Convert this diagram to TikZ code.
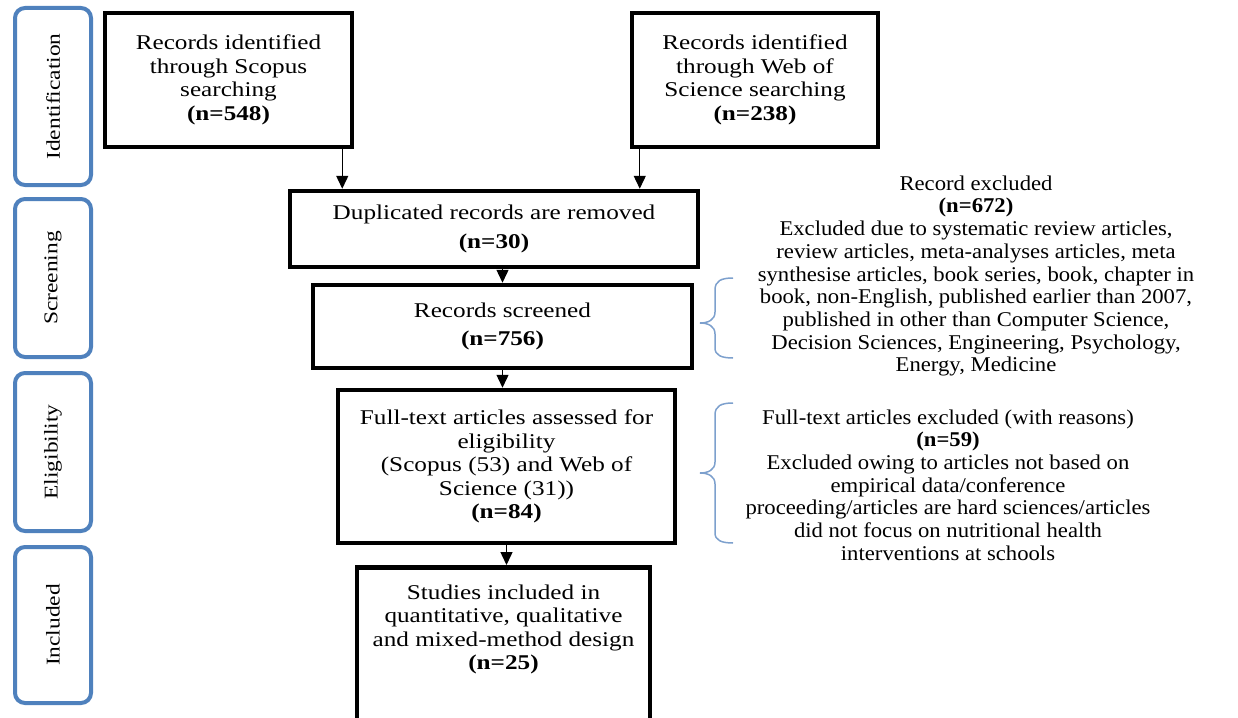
\documentclass[tikz,border=0pt]{standalone}
\usepackage{fontspec}
\setmainfont{Liberation Serif}[FakeStretch=1.2]
\newfontfamily\notefont{Liberation Serif}[FakeStretch=1.08]
\usetikzlibrary{arrows.meta}
\definecolor{stageblue}{RGB}{79,129,189}
\definecolor{braceblue}{RGB}{125,160,205}

\begin{document}
\begin{tikzpicture}[x=1pt,y=-1pt,
    every node/.style={align=center,font=\fontsize{21}{23.5}\selectfont},
    box/.style={draw,line width=4.5pt,inner sep=0pt},
    stage/.style={draw=stageblue,line width=4pt,rounded corners=10pt,fill=white,
      rotate=90,minimum height=76pt,inner sep=0pt,font=\fontsize{19.5}{22}\selectfont},
    note/.style={font=\notefont\fontsize{21}{22.7}\selectfont},
    arr/.style={line width=1.4pt,-{Triangle[length=13pt,width=12pt]}},
    brace/.style={draw=braceblue,line width=1.5pt}]
  \useasboundingbox (0,0) rectangle (1238,717);
  \clip (0,0) rectangle (1238,717);

  % stages
  \node[stage,minimum width=177pt] (idf) at (53,96.5) {Identification};
  \node[stage,minimum width=158pt] (scr) at (53,278) {Screening};
  \node[stage,minimum width=158pt] (elg) at (53,452) {Eligibility};
  \node[stage,minimum width=156pt] (inc) at (53,625) {Included};

  % flow boxes
  \node[box,minimum width=247pt,minimum height=134pt] (scopus) at (228.5,80)
    {Records identified\\through Scopus\\searching\\\textbf{(n=548)}};
  \node[box,minimum width=246pt,minimum height=134pt] (wos) at (755,80)
    {Records identified\\through Web of\\Science searching\\\textbf{(n=238)}};
  \node[box,minimum width=408pt,minimum height=76pt] (dup) at (494,229)
    {Duplicated records are removed\\[5pt]\textbf{(n=30)}};
  \node[box,minimum width=379pt,minimum height=83pt] (scrn) at (502.5,326.5)
    {Records screened\\[5pt]\textbf{(n=756)}};
  \node[box,minimum width=337pt,minimum height=153pt] (full) at (506.5,466.5)
    {Full-text articles assessed for\\eligibility\\(Scopus (53) and Web of\\Science (31))\\\textbf{(n=84)}};
  \node[box,minimum width=293pt,minimum height=180pt,anchor=north] (incl) at (503.5,565) {};
  \node[anchor=north] (incltxt) at ([yshift=-16pt]incl.north)
    {Studies included in\\quantitative, qualitative\\and mixed-method design\\\textbf{(n=25)}};

  % exclusions
  \node[note] (excl1) at (976,276)
    {Record excluded\\\textbf{(n=672)}\\Excluded due to systematic review articles,\\review articles, meta-analyses articles, meta\\synthesise articles, book series, book, chapter in\\book, non-English, published earlier than 2007,\\published in other than Computer Science,\\Decision Sciences, Engineering, Psychology,\\Energy, Medicine};
  \node[note] (excl2) at (948,485)
    {Full-text articles excluded (with reasons)\\\textbf{(n=59)}\\Excluded owing to articles not based on\\empirical data/conference\\proceeding/articles are hard sciences/articles\\did not focus on nutritional health\\interventions at schools};

  % arrows
  \coordinate (s1) at ([xshift=-12pt]scopus.south east);
  \coordinate (w1) at ([xshift=10pt]wos.south west);
  \draw[arr] (s1) -- (s1 |- dup.north);
  \draw[arr] (w1) -- (w1 |- dup.north);
  \draw[arr] (dup.south -| scrn.north) -- (scrn.north);
  \draw[arr] (scrn.south) -- (scrn.south |- full.north);
  \draw[arr] (full.south) -- (full.south |- incl.north);

  % braces
  \draw[brace] (733,278) .. controls (721,278) and (715,281) .. (715,290) -- (715,312)
    .. controls (715,320) and (708,323) .. (700,323)
    .. controls (708,323) and (715,326) .. (715,334) -- (715,348)
    .. controls (715,355) and (721,358) .. (733,358);
  \draw[brace] (733,403) .. controls (721,403) and (715,406) .. (715,415) -- (715,462)
    .. controls (715,470) and (708,473) .. (700,473)
    .. controls (708,473) and (715,476) .. (715,484) -- (715,533)
    .. controls (715,540) and (721,543) .. (733,543);
\end{tikzpicture}
\end{document}
